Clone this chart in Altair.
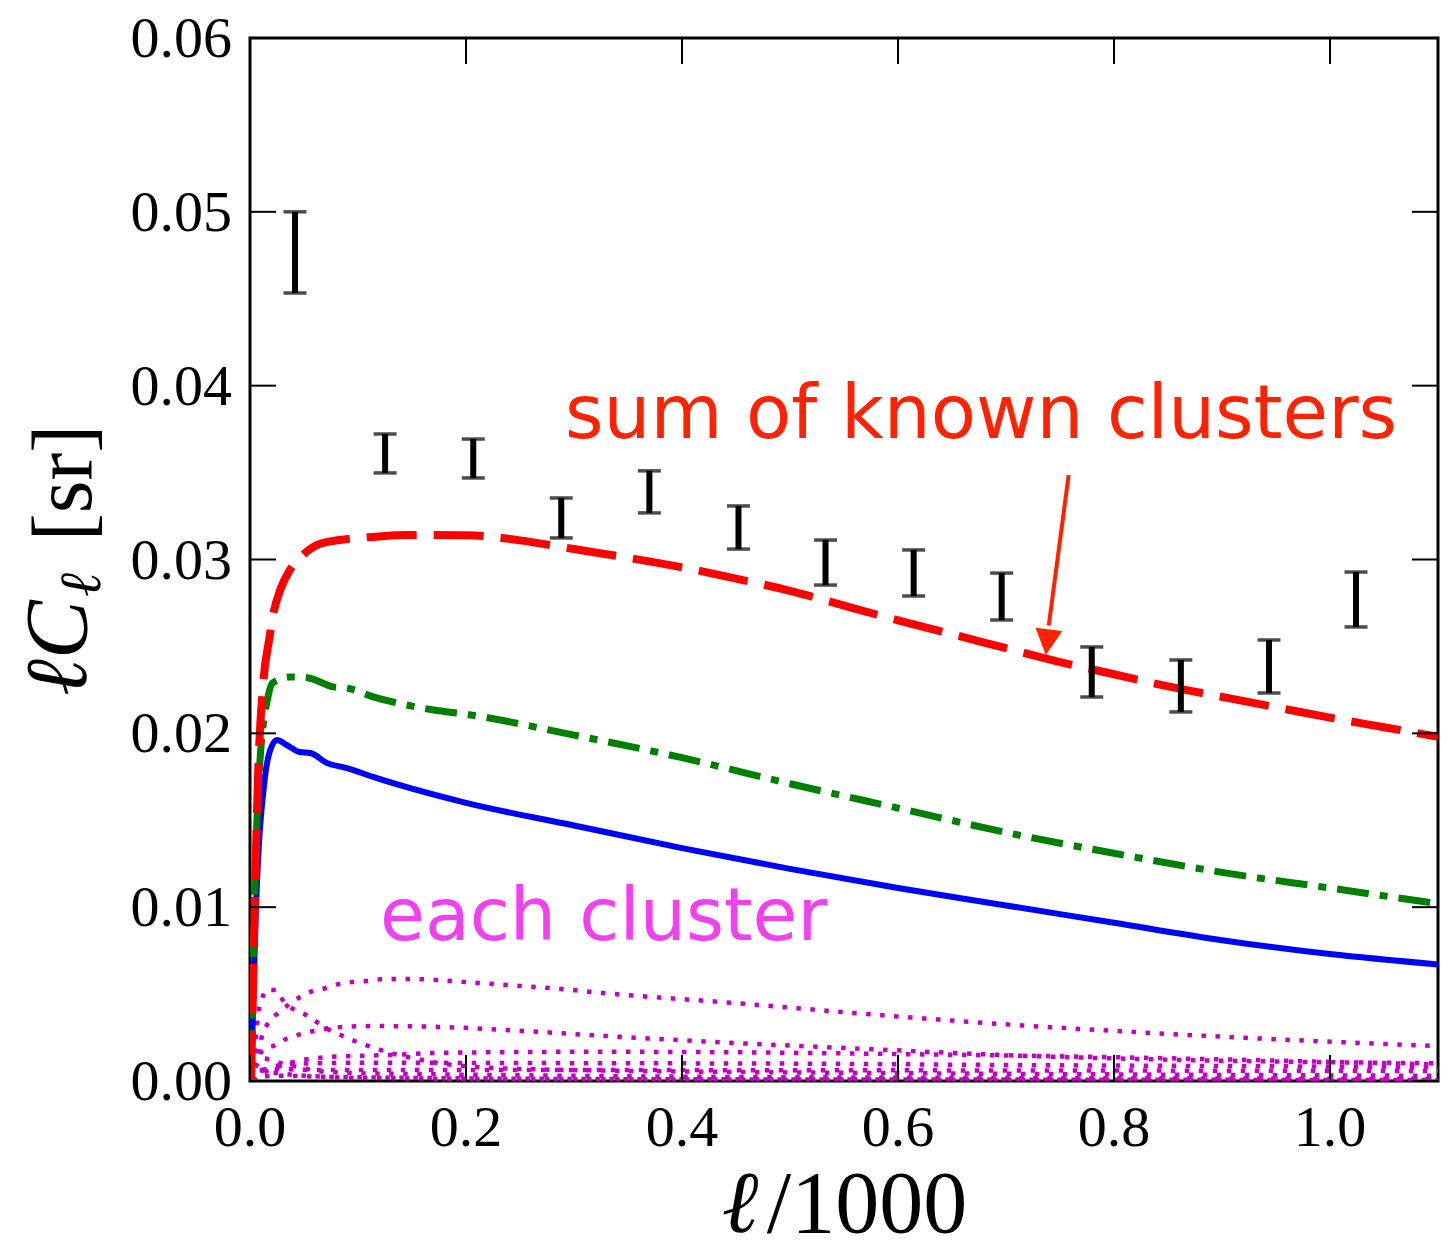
import altair as alt
import pandas as pd

# ---------------- data ----------------
x_ticks = [0.0, 0.2, 0.4, 0.6, 0.8, 1.0]
y_ticks = [0.00, 0.01, 0.02, 0.03, 0.04, 0.05, 0.06]

# measured points with error bars (ell/1000, lower, upper)
err_ell = [0.0417, 0.1251, 0.2067, 0.2882, 0.3698, 0.4523, 0.5329, 0.6145, 0.696, 0.7794, 0.8619, 0.9435, 1.0241]
err_lo = [0.04533, 0.03498, 0.03469, 0.03124, 0.03268, 0.0306, 0.02853, 0.0279, 0.02652, 0.02209, 0.02123, 0.02232, 0.02612]
err_hi = [0.0500, 0.03722, 0.03693, 0.03354, 0.0351, 0.03308, 0.03112, 0.03055, 0.02922, 0.02497, 0.02422, 0.02537, 0.02928]

# sum of known clusters (red dashed)
red_x = [0.001, 0.004, 0.0074, 0.012, 0.018, 0.021, 0.028, 0.037, 0.049, 0.062, 0.083, 0.114, 0.145, 0.2, 0.25,
         0.3, 0.35, 0.4, 0.45, 0.5, 0.55, 0.6, 0.65, 0.7, 0.75, 0.8, 0.85, 0.9, 0.95, 1.0, 1.05, 1.1]
red_y = [0.0, 0.009, 0.0175, 0.0227, 0.0255, 0.0267, 0.02825, 0.0294, 0.03026, 0.03083, 0.03112, 0.0313, 0.03141, 0.0314, 0.0311,
         0.0306, 0.0301, 0.02955, 0.0289, 0.0282, 0.02735, 0.0265, 0.0257, 0.0249, 0.0241, 0.0234, 0.0227, 0.0221, 0.0215, 0.0209, 0.02035, 0.0198]

# green dash-dot
green_x = [0.001, 0.004, 0.0083, 0.0167, 0.021, 0.037, 0.053, 0.077, 0.09, 0.114, 0.145, 0.17, 0.2, 0.3, 0.4, 0.5, 0.6, 0.7, 0.8, 0.9, 1.0, 1.1]
green_y = [0.0, 0.010, 0.0175, 0.0221, 0.0229, 0.02324, 0.0232, 0.02267, 0.0226, 0.0221, 0.02163, 0.02134, 0.0211, 0.0199, 0.0186, 0.0171, 0.0157, 0.0143, 0.0131, 0.0120, 0.0111, 0.0102]

# blue solid
blue_x = [0.001, 0.005, 0.0139, 0.0185, 0.025, 0.034, 0.046, 0.056, 0.071, 0.09, 0.114, 0.2, 0.3, 0.4, 0.5, 0.6, 0.7, 0.8, 0.9, 1.0, 1.1]
blue_y = [0.0, 0.009, 0.0175, 0.019, 0.01962, 0.01933, 0.01893, 0.01887, 0.0183, 0.018, 0.01749, 0.0160, 0.0147, 0.0134, 0.0122, 0.0111, 0.0101, 0.0091, 0.0081, 0.0073, 0.0067]

# each cluster (magenta dotted)
clA_x = [0.002, 0.005, 0.008, 0.011, 0.0148, 0.024, 0.0315, 0.0417, 0.0538, 0.063, 0.075, 0.086, 0.097, 0.110, 0.127, 0.146, 0.173, 0.21, 0.26, 0.33, 0.45, 0.6, 0.8, 1.1]
clA_y = [0.0, 0.0022, 0.0040, 0.0047, 0.00523, 0.00523, 0.00454, 0.00408, 0.00374, 0.00334, 0.00288, 0.00259, 0.0023, 0.00201, 0.00167, 0.00138, 0.00105, 0.0008, 0.00068, 0.0006, 0.00052, 0.00045, 0.00038, 0.0003]
clB_x = [0.002, 0.008, 0.0167, 0.026, 0.036, 0.0463, 0.0584, 0.0704, 0.0825, 0.0955, 0.108, 0.121, 0.146, 0.173, 0.211, 0.25, 0.289, 0.327, 0.448, 0.572, 0.695, 0.818, 0.943, 1.1]
clB_y = [0.0, 0.0019, 0.00334, 0.0039, 0.0044, 0.00483, 0.00518, 0.00535, 0.00558, 0.0057, 0.00575, 0.00585, 0.00587, 0.00581, 0.00564, 0.00547, 0.00529, 0.00506, 0.00449, 0.00385, 0.00328, 0.00282, 0.00242, 0.00201]
clC_x = [0.002, 0.006, 0.012, 0.024, 0.035, 0.047, 0.059, 0.085, 0.116, 0.175, 0.253, 0.329, 0.448, 0.572, 0.695, 0.818, 0.95, 1.1]
clC_y = [0.0, 0.0010, 0.00178, 0.00207, 0.00247, 0.0027, 0.00288, 0.00311, 0.00316, 0.00311, 0.00288, 0.00259, 0.00219, 0.00184, 0.0015, 0.00127, 0.00112, 0.00102]
clD_x = [0.003, 0.014, 0.025, 0.049, 0.074, 0.13, 0.176, 0.32, 0.45, 0.6, 0.73, 0.88, 1.1]
clD_y = [0.0, 0.00052, 0.0008, 0.00121, 0.00138, 0.0015, 0.00162, 0.00168, 0.00165, 0.00155, 0.00144, 0.00127, 0.00095]
clE_x = [0.003, 0.01, 0.02, 0.035, 0.05, 0.08, 0.12, 0.2, 0.35, 0.5, 0.7, 0.9, 1.1]
clE_y = [0.0, 0.0005, 0.0008, 0.00095, 0.001, 0.00104, 0.00105, 0.00104, 0.00102, 0.001, 0.00092, 0.00086, 0.0008]
clF_x = [0.002, 0.006, 0.012, 0.02, 0.03, 0.05, 0.08, 0.15, 0.3, 0.5, 0.8, 1.1]
clF_y = [0.0, 0.0004, 0.00065, 0.0007, 0.00068, 0.00065, 0.00063, 0.00063, 0.00063, 0.00062, 0.0006, 0.00058]
clG_x = [0.002, 0.01, 0.03, 0.1, 0.3, 0.6, 1.1]
clG_y = [0.0, 0.00025, 0.0003, 0.00018, 0.0001, 0.00008, 0.00006]
clH_x = [0.002, 0.006, 0.012, 0.02, 0.03, 0.045, 0.06, 0.08, 0.1, 0.15, 0.25, 0.4, 0.7, 1.1]
clH_y = [0.0, 0.0009, 0.0013, 0.0012, 0.001, 0.0008, 0.0006, 0.0005, 0.00045, 0.0004, 0.00033, 0.00025, 0.00018, 0.00012]
clI_x = [0.002, 0.005, 0.01, 0.02, 0.04, 0.07, 0.12, 0.2, 0.4, 0.7, 1.1]
clI_y = [0.0, 0.0005, 0.0006, 0.0005, 0.00035, 0.00025, 0.0002, 0.00015, 0.0001, 0.00008, 0.00005]

# annotation arrow (data coordinates): start, end of shaft, tip
arrow_start = (0.758, 0.03486)
arrow_end = (0.7396, 0.0262)
arrow_tip = (0.7368, 0.0245)

label_sum = "sum of known clusters"
label_each = "each cluster"

# ---------------- chart ----------------
W, H = 1188, 1043
SERIF = "Liberation Serif"
SANS = "DejaVu Sans"

xs = alt.Scale(domain=[0, 1.1], nice=False, zero=False)
ys = alt.Scale(domain=[0, 0.06], nice=False, zero=False)


def X(f):
    return alt.X(f, type="quantitative", scale=xs, axis=None)


def Y(f):
    return alt.Y(f, type="quantitative", scale=ys, axis=None)


clusters = [(clA_x, clA_y), (clB_x, clB_y), (clC_x, clC_y), (clD_x, clD_y), (clE_x, clE_y),
            (clF_x, clF_y), (clG_x, clG_y), (clH_x, clH_y), (clI_x, clI_y)]
rows = []
for i, (cx, cy) in enumerate(clusters):
    for a, b in zip(cx, cy):
        rows.append({"ell": a, "val": b, "curve": "c%d" % i})
df_cl = pd.DataFrame(rows)

dotted = alt.Chart(df_cl).mark_line(
    color="#c400c4", strokeWidth=4.5, strokeDash=[4.5, 9.5], interpolate="monotone", clip=True
).encode(x=X("ell"), y=Y("val"), detail="curve:N")

blue = alt.Chart(pd.DataFrame({"ell": blue_x, "val": blue_y})).mark_line(
    color="#0000ff", strokeWidth=6, interpolate="monotone", clip=True
).encode(x=X("ell"), y=Y("val"))

green = alt.Chart(pd.DataFrame({"ell": green_x, "val": green_y})).mark_line(
    color="#008000", strokeWidth=7, strokeDash=[32, 11, 8, 11], interpolate="monotone", clip=True
).encode(x=X("ell"), y=Y("val"))

red = alt.Chart(pd.DataFrame({"ell": red_x, "val": red_y})).mark_line(
    color="#ff0000", strokeWidth=8, strokeDash=[50, 17], interpolate="monotone", clip=True
).encode(x=X("ell"), y=Y("val"))

df_err = pd.DataFrame({"ell": err_ell, "lo": err_lo, "hi": err_hi})
err_rule = alt.Chart(df_err).mark_rule(color="black", strokeWidth=6).encode(
    x=X("ell"), y=Y("lo"), y2="hi")
err_top = alt.Chart(df_err).mark_tick(color="black", orient="horizontal", size=23, thickness=3.5).encode(
    x=X("ell"), y=Y("hi"))
err_bot = alt.Chart(df_err).mark_tick(color="black", orient="horizontal", size=23, thickness=3.5).encode(
    x=X("ell"), y=Y("lo"))

ACOL = "#ff2200"
df_arrow = pd.DataFrame({"x1": [arrow_start[0]], "y1": [arrow_start[1]],
                         "x2": [arrow_end[0]], "y2": [arrow_end[1]],
                         "xt": [arrow_tip[0]], "yt": [arrow_tip[1]]})
arrow_shaft = alt.Chart(df_arrow).mark_rule(color=ACOL, strokeWidth=4).encode(
    x=X("x1"), y=Y("y1"), x2="x2", y2="y2")
arrow_head = alt.Chart(df_arrow).mark_point(
    shape="M0,0 L-0.52,-1 L0.52,-1 Z", filled=True, opacity=1, color=ACOL, size=2700, angle=7, strokeWidth=0
).encode(x=X("xt"), y=Y("yt"))


def txt(s, px, py, **kw):
    return alt.Chart(pd.DataFrame({"t": [s]})).mark_text(**kw).encode(
        text="t:N", x=alt.value(px), y=alt.value(py))


t_sum = txt(label_sum, 315, 400, font=SANS, fontSize=74, color=ACOL, align="left", baseline="alphabetic")
t_each = txt(label_each, 130, 902, font=SANS, fontSize=73, color="#f040f0", align="left", baseline="alphabetic")

# axis titles
xt1 = txt("ℓ", 490, 1194, font=SERIF, fontSize=88, fontStyle="italic", color="black", align="center", baseline="alphabetic")
xt2 = txt("/1000", 617, 1194, font=SERIF, fontSize=88, color="black", align="center", baseline="alphabetic")
yt1 = txt("ℓC", -190, 610, font=SERIF, fontSize=88, fontStyle="italic", color="black", angle=270, align="center", baseline="middle")
yt2 = txt("ℓ", -167, 547, font=SERIF, fontSize=58, fontStyle="italic", color="black", angle=270, align="center", baseline="middle")
yt3 = txt("[sr]", -184, 445, font=SERIF, fontSize=84, color="black", angle=270, align="center", baseline="middle")

# tick labels, placed through the scales
df_xt = pd.DataFrame({"v": x_ticks, "lab": ["%.1f" % v for v in x_ticks]})
df_yt = pd.DataFrame({"v": y_ticks, "lab": ["%.2f" % v for v in y_ticks]})
xlab = alt.Chart(df_xt).mark_text(font=SERIF, fontSize=58, color="black", align="center", baseline="alphabetic").encode(
    x=X("v"), y=alt.value(1108), text="lab:N")
ylab = alt.Chart(df_yt).mark_text(font=SERIF, fontSize=58, color="black", align="right", baseline="alphabetic", dy=19).encode(
    y=Y("v"), x=alt.value(-18), text="lab:N")

# inward ticks on all four sides
TL = 26
tick_b = alt.Chart(df_xt).mark_rule(color="black", strokeWidth=2).encode(
    x=X("v"), y=alt.value(H), y2=alt.value(H - TL))
tick_t = alt.Chart(df_xt).mark_rule(color="black", strokeWidth=2).encode(
    x=X("v"), y=alt.value(0), y2=alt.value(TL))
tick_l = alt.Chart(df_yt).mark_rule(color="black", strokeWidth=2).encode(
    y=Y("v"), x=alt.value(0), x2=alt.value(TL))
tick_r = alt.Chart(df_yt).mark_rule(color="black", strokeWidth=2).encode(
    y=Y("v"), x=alt.value(W), x2=alt.value(W - TL))

chart = alt.layer(
    dotted, blue, green, red, err_rule, err_top, err_bot, arrow_shaft, arrow_head,
    t_sum, t_each, xt1, xt2, yt1, yt2, yt3, xlab, ylab, tick_b, tick_t, tick_l, tick_r
).properties(
    width=W, height=H,
    autosize=alt.AutoSizeParams(type="none"),
    padding={"left": 242, "top": 30, "right": 6, "bottom": 169},
    background="white",
).configure_view(
    stroke="black", strokeWidth=3
)

chart.save("out.html", embed_options={"renderer": "svg", "actions": False})
